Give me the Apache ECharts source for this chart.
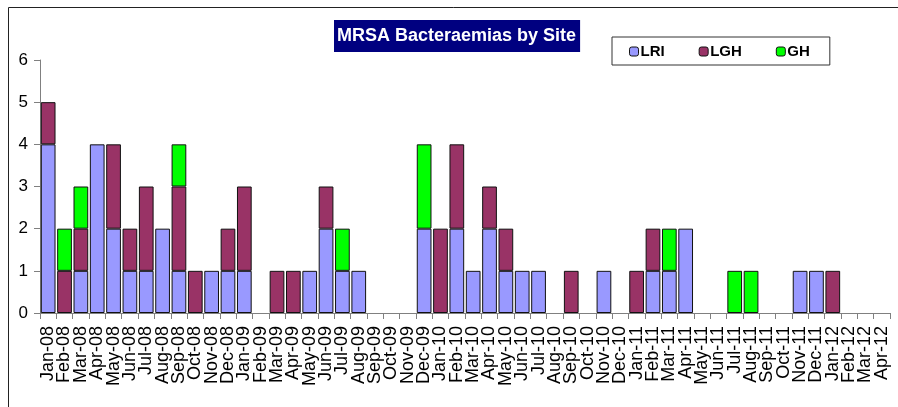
<!DOCTYPE html>
<html>
<head>
<meta charset="utf-8">
<script src="https://cdn.jsdelivr.net/npm/echarts@6/dist/echarts.min.js"></script>
<style>
  html, body { margin: 0; padding: 0; background: #fff; }
  #chart { width: 898px; height: 407px; }
</style>
</head>
<body>
<div id="chart"></div>
<script>
const months = ['Jan-08','Feb-08','Mar-08','Apr-08','May-08','Jun-08','Jul-08','Aug-08','Sep-08','Oct-08','Nov-08','Dec-08',
  'Jan-09','Feb-09','Mar-09','Apr-09','May-09','Jun-09','Jul-09','Aug-09','Sep-09','Oct-09','Nov-09','Dec-09',
  'Jan-10','Feb-10','Mar-10','Apr-10','May-10','Jun-10','Jul-10','Aug-10','Sep-10','Oct-10','Nov-10','Dec-10',
  'Jan-11','Feb-11','Mar-11','Apr-11','May-11','Jun-11','Jul-11','Aug-11','Sep-11','Oct-11','Nov-11','Dec-11',
  'Jan-12','Feb-12','Mar-12','Apr-12'];

const lri = [4,0,1,4,2,1,1,2,1,0,1,1, 1,0,0,0,1,2,1,1,0,0,0,2, 0,2,1,2,1,1,1,0,0,0,1,0, 0,1,1,2,0,0,0,0,0,0,1,1, 0,0,0,0];
const lgh = [1,1,1,0,2,1,2,0,2,1,0,1, 2,0,1,1,0,1,0,0,0,0,0,0, 2,2,0,1,1,0,0,0,1,0,0,0, 1,1,0,0,0,0,0,0,0,0,0,0, 1,0,0,0];
const gh  = [0,1,1,0,0,0,0,0,1,0,0,0, 0,0,0,0,0,0,1,0,0,0,0,2, 0,0,0,0,0,0,0,0,0,0,0,0, 0,0,1,0,0,0,1,1,0,0,0,0, 0,0,0,0];

const yTicks = [0, 6, 1]; // min, max, interval

const font = 'Arial, "Liberation Sans", sans-serif';

// zero months draw no bar
function clean(arr) {
  return arr.map(v => v === 0 ? '-' : v);
}

function barSeries(name, data, color) {
  return {
    name: name,
    type: 'bar',
    stack: 'site',
    barCategoryGap: '10%',
    data: clean(data),
    itemStyle: { color: color, borderColor: '#111', borderWidth: 1 }
  };
}

const chart = echarts.init(document.getElementById('chart'));
chart.setOption({
  animation: false,
  backgroundColor: '#fff',
  title: {
    text: 'MRSA Bacteraemias by Site',
    left: 334,
    top: 20,
    backgroundColor: '#000080',
    padding: [7, 4, 7, 3],
    textStyle: { color: '#fff', fontWeight: 'bold', fontSize: 18, fontFamily: font }
  },
  legend: {
    left: 612,
    top: 37,
    padding: [7, 20, 6, 17],
    itemGap: 34,
    itemWidth: 9,
    itemHeight: 9,
    itemStyle: { borderColor: '#111', borderWidth: 1 },
    borderColor: '#333',
    borderWidth: 1,
    backgroundColor: '#fff',
    textStyle: { fontWeight: 'bold', fontSize: 15, fontFamily: font, color: '#000', padding: [0, 0, 0, -3] },
    data: ['LRI', 'LGH', 'GH']
  },
  graphic: [{
    type: 'rect',
    shape: { x: 8.5, y: 7.5, width: 900, height: 430 },
    style: { fill: 'none', stroke: '#222', lineWidth: 1 },
    silent: true
  }],
  grid: { left: 40, right: 8, top: 60, bottom: 94 },
  xAxis: {
    type: 'category',
    data: months,
    axisLine: { lineStyle: { color: '#808080', width: 1 } },
    axisTick: { show: true, length: 6, lineStyle: { color: '#808080' } },
    axisLabel: { interval: 0, rotate: 90, margin: 13, fontSize: 18, fontFamily: font, color: '#000' }
  },
  yAxis: {
    type: 'value',
    min: yTicks[0],
    max: yTicks[1],
    interval: yTicks[2],
    splitLine: { show: false },
    axisLine: { show: true, lineStyle: { color: '#808080', width: 1 } },
    axisTick: { show: true, length: 6, lineStyle: { color: '#808080' } },
    axisLabel: { margin: 12, fontSize: 17, fontFamily: font, color: '#000' }
  },
  series: [
    barSeries('LRI', lri, '#9999FF'),
    barSeries('LGH', lgh, '#993366'),
    barSeries('GH', gh, '#00FF00')
  ]
});
</script>
</body>
</html>
